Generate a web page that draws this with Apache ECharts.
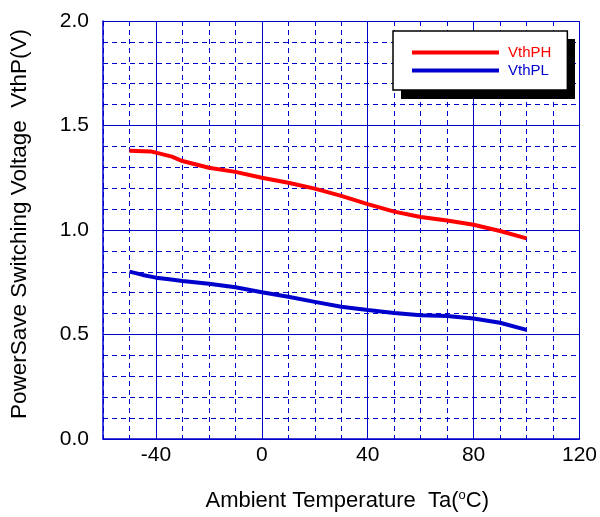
<!DOCTYPE html>
<html>
<head>
<meta charset="utf-8">
<script src="https://cdn.jsdelivr.net/npm/echarts@6/dist/echarts.min.js"></script>
<style>
  html, body { margin: 0; padding: 0; background: #fff; }
  #chart { width: 600px; height: 517px; }
</style>
</head>
<body>
<div id="chart"></div>
<script>
// temperatures (°C) and voltages (V)
const tempPH = [-50, -42, -40, -34, -30, -20, -10, 0, 10, 20, 30, 40, 50, 60, 70, 80, 90, 100];
const vthPH = [1.379, 1.376, 1.370, 1.351, 1.330, 1.298, 1.278, 1.250, 1.226, 1.198, 1.163, 1.124, 1.088, 1.062, 1.045, 1.025, 0.995, 0.960];

const tempPL = [-50, -45, -40, -35, -30, -20, -10, 0, 10, 20, 30, 40, 50, 60, 70, 80, 90, 100];
const vthPL = [0.801, 0.785, 0.772, 0.764, 0.756, 0.743, 0.726, 0.702, 0.681, 0.656, 0.633, 0.617, 0.603, 0.592, 0.589, 0.577, 0.556, 0.522];

// labelled (solid) temperature grid lines
const majorTemps = [-40, 0, 40, 80, 120];

const gridBlue = '#0000cc';
const font = 'Arial, "Liberation Sans", sans-serif';

const chart = echarts.init(document.getElementById('chart'));

const option = {
  animation: false,
  backgroundColor: '#fff',
  grid: { left: 102, right: 20, top: 21, bottom: 78 },
  // black drop shadow behind the legend box
  graphic: [{
    type: 'rect',
    z: 3,
    shape: { x: 401, y: 39, width: 174, height: 60 },
    style: { fill: '#000' }
  }],
  legend: {
    orient: 'vertical',
    left: 393,
    top: 31,
    z: 4,
    align: 'left',
    padding: [14, 16, 12, 19],
    itemGap: 3,
    itemWidth: 87,
    itemHeight: 4,
    icon: 'rect',
    backgroundColor: '#fff',
    borderColor: '#000',
    borderWidth: 1.5,
    borderRadius: 0,
    textStyle: { fontFamily: font, fontSize: 15, padding: [0, 0, 0, 4] },
    data: [
      { name: 'VthPH', textStyle: { color: '#ff0000' } },
      { name: 'VthPL', textStyle: { color: gridBlue } }
    ]
  },
  xAxis: [
    {
      type: 'value',
      min: -60,
      max: 120,
      name: 'Ambient Temperature  Ta({sup|o}C)',
      nameLocation: 'middle',
      nameGap: 50,
      nameTextStyle: {
        fontFamily: font, fontSize: 22, color: '#000', padding: [0, 0, 0, 12],
        rich: { sup: { fontFamily: font, fontSize: 13, color: '#000', verticalAlign: 'top', padding: [0, 0, 10, 0] } }
      },
      axisLine: { show: true, onZero: false, lineStyle: { color: gridBlue, width: 1.5 } },
      axisTick: { show: false, customValues: majorTemps },
      axisLabel: {
        margin: 6,
        fontFamily: font, fontSize: 21, color: '#000',
        customValues: majorTemps
      },
      splitLine: { show: false },
      z: 3
    },
    {
      type: 'value',
      min: -60,
      max: 120,
      interval: 10,
      position: 'bottom',
      axisLine: { show: false },
      axisTick: { show: false },
      axisLabel: { show: false },
      splitLine: { show: true, lineStyle: { color: gridBlue, width: 1, type: [5, 4] } }
    }
  ],
  yAxis: {
    type: 'value',
    min: 0,
    max: 2,
    interval: 0.5,
    name: 'PowerSave Switching Voltage  VthP(V)',
    nameLocation: 'middle',
    nameGap: 72,
    nameTextStyle: { fontFamily: font, fontSize: 22.5, color: '#000', padding: [0, 0, 0, 12] },
    axisLine: { show: true, onZero: false, lineStyle: { color: gridBlue, width: 1.5 } },
    axisTick: { show: false },
    axisLabel: {
      margin: 14,
      fontFamily: font, fontSize: 21, color: '#000',
      formatter: v => v.toFixed(1)
    },
    splitLine: { show: true, lineStyle: { color: gridBlue, width: 1 } },
    minorTick: { show: false, splitNumber: 5 },
    minorSplitLine: { show: true, lineStyle: { color: gridBlue, width: 1, type: [5, 4] } }
  },
  series: [
    {
      name: 'VthPH',
      type: 'line',
      xAxisIndex: 0,
      showSymbol: false,
      color: '#ff0000',
      lineStyle: { width: 4, color: '#ff0000' },
      data: tempPH.map((t, i) => [t, vthPH[i]]),
      z: 5,
      // solid vertical grid lines at the labelled temperatures
      markLine: {
        silent: true,
        symbol: 'none',
        z: 1,
        label: { show: false },
        lineStyle: { color: gridBlue, width: 1, type: 'solid' },
        emphasis: { disabled: true },
        data: majorTemps.map(t => ({ xAxis: t }))
      }
    },
    {
      name: 'VthPL',
      type: 'line',
      xAxisIndex: 0,
      showSymbol: false,
      color: gridBlue,
      lineStyle: { width: 4, color: gridBlue },
      data: tempPL.map((t, i) => [t, vthPL[i]]),
      z: 5
    }
  ]
};

chart.setOption(option);
</script>
</body>
</html>
